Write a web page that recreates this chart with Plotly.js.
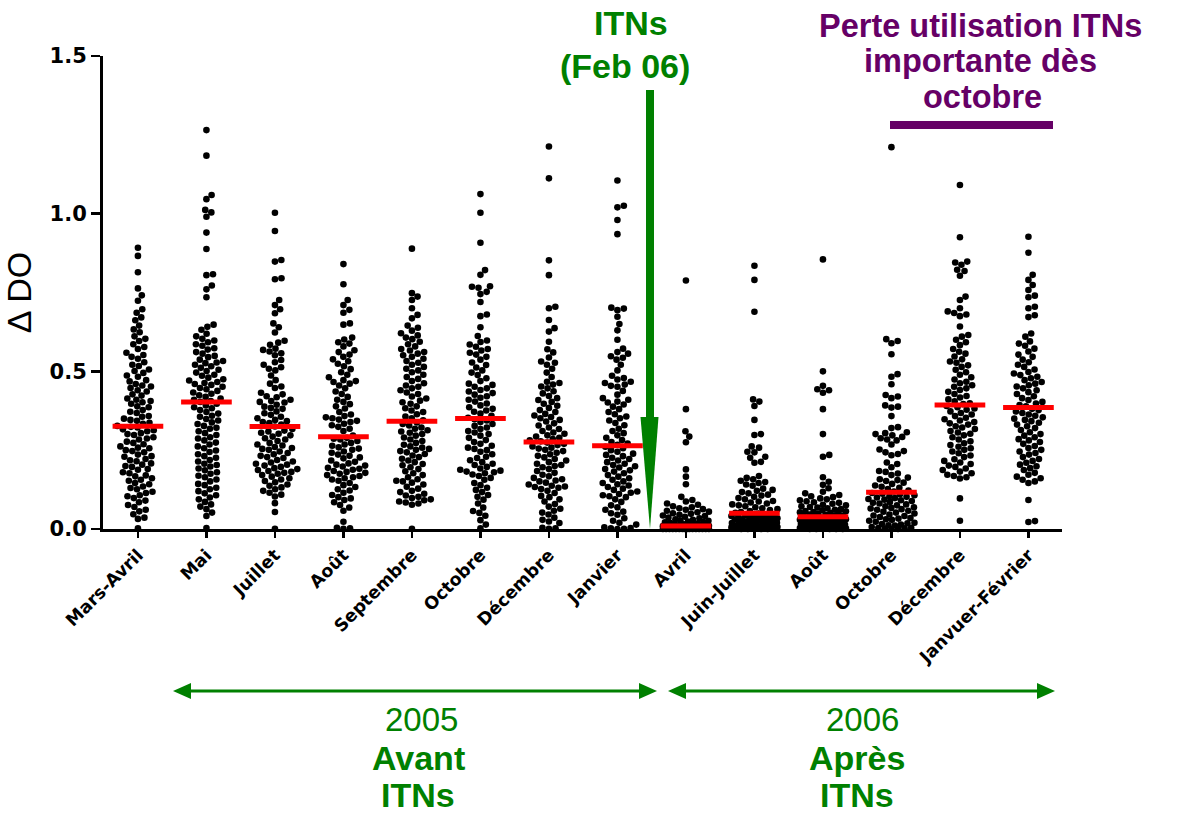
<!DOCTYPE html>
<html>
<head>
<meta charset="utf-8">
<script src="https://cdn.plot.ly/plotly-3.0.1.min.js"></script>
<style>html,body{margin:0;padding:0;background:#fff;}#chart{width:1178px;height:814px;}</style>
</head>
<body>
<div id="chart"></div>
<script>
// ---------- DATA ----------
const categories = ['Mars-Avril','Mai','Juillet','Août','Septembre','Octobre','Décembre','Janvier',
                    'Avril','Juin-Juillet','Août','Octobre','Décembre','Janvuer-Février'];
const yTickVals = [0, 0.5, 1.0, 1.5];

const marsAvril = [0.892,0.866,0.814,0.763,0.741,0.724,0.697,0.686,0.671,0.662,0.645,0.633,0.624,0.611,0.603,
0.596,0.586,0.577,0.571,0.559,0.552,0.546,0.54,0.529,0.521,0.517,0.506,0.501,
0.495,0.487,0.483,0.472,0.468,0.46,0.455,0.452,0.447,0.44,0.436,0.427,0.423,0.414,0.41,0.406,0.402,
0.397,0.389,0.386,0.377,0.372,0.368,0.358,0.356,0.35,0.346,0.343,0.337,0.334,0.327,0.324,0.322,0.316,0.313,0.31,0.304,0.301,
0.298,0.291,0.287,0.284,0.277,0.273,0.269,0.262,0.258,0.256,0.25,0.247,0.243,0.236,0.231,0.229,0.222,0.218,0.215,0.208,0.204,0.2,
0.197,0.19,0.188,0.18,0.177,0.17,0.167,0.161,0.156,0.153,0.146,0.142,0.135,0.13,0.126,0.118,0.114,0.107,0.104,
0.098,0.09,0.085,0.076,0.07,0.061,0.056,0.047,0.036,0.032,0.002];

const mai = [1.265,1.184,1.059,1.046,1.012,1.004,0.99,0.94,0.888,0.808,0.805,0.772,0.76,0.735,
0.648,0.641,0.632,0.619,0.611,0.603,0.598,0.592,0.586,0.581,0.573,0.569,0.561,0.556,0.549,0.545,0.537,0.533,0.528,0.526,
0.521,0.516,0.511,0.505,0.501,0.496,0.489,0.486,0.48,0.475,0.471,0.466,0.463,0.46,
0.457,0.451,0.447,0.443,0.438,0.433,0.429,0.424,0.419,0.414,0.41,0.406,0.403,
0.397,0.392,0.386,0.383,0.377,0.371,0.366,0.359,0.356,0.349,0.344,0.338,
0.333,0.327,0.321,0.318,0.31,0.304,0.298,0.291,0.287,0.281,0.274,
0.268,0.262,0.256,0.249,0.244,0.237,0.231,0.226,0.219,0.214,
0.207,0.203,0.198,0.192,0.186,0.18,0.175,0.169,0.164,0.157,0.151,
0.143,0.139,0.131,0.126,0.12,0.113,0.107,0.1,0.094,0.086,0.078,0.071,0.063,0.052,0.041,0.003];

const juillet = [1.003,0.945,0.853,0.848,0.795,0.792,0.726,0.71,0.697,0.684,0.652,0.64,0.623,
0.597,0.591,0.584,0.572,0.568,0.563,0.557,0.551,0.536,0.529,0.521,0.513,0.508,0.503,
0.487,0.472,0.461,0.452,0.447,0.432,0.427,0.421,0.418,0.41,0.406,0.403,0.401,
0.394,0.388,0.384,0.381,0.373,0.367,0.362,0.356,0.351,0.346,0.342,0.339,0.336,0.331,0.325,
0.317,0.312,0.309,0.305,0.302,0.297,0.293,0.288,0.284,0.279,0.273,0.268,0.265,0.26,0.257,0.254,0.251,
0.246,0.241,0.237,0.232,0.228,0.225,0.219,0.214,0.211,0.207,0.204,0.201,
0.197,0.193,0.19,0.187,0.184,0.181,0.178,0.175,0.171,0.166,0.161,0.157,0.152,
0.148,0.141,0.137,0.132,0.126,0.121,0.115,0.109,0.103,0.082,0.054,0.001];

const aout05 = [0.84,0.776,0.726,0.71,0.695,0.686,0.652,0.648,
0.607,0.601,0.592,0.588,0.579,0.567,0.561,0.553,0.546,0.538,0.532,0.524,0.516,0.507,
0.497,0.489,0.481,0.472,0.469,0.466,0.461,0.455,0.446,0.436,0.428,0.419,0.41,0.403,
0.396,0.389,0.382,0.371,0.363,0.358,0.354,0.351,0.347,0.343,0.339,0.334,0.329,0.324,0.318,0.311,
0.296,0.289,0.286,0.284,0.279,0.273,0.268,0.264,0.259,0.255,0.251,
0.246,0.242,0.236,0.232,0.227,0.224,0.217,0.213,0.208,0.204,0.201,
0.198,0.194,0.191,0.188,0.184,0.181,0.178,0.175,0.171,0.168,0.164,0.161,0.157,0.153,
0.146,0.139,0.133,0.126,0.122,0.115,0.108,0.101,0.097,0.092,0.085,0.076,0.068,0.058,
0.023,0.004,0.002,0.001];

const septembre = [0.889,0.748,0.737,0.726,0.7,0.679,0.668,
0.645,0.638,0.629,0.621,0.614,0.607,0.602,0.594,0.586,0.579,0.571,0.566,0.561,0.556,0.551,
0.546,0.54,0.533,0.527,0.521,0.514,0.508,0.503,0.497,0.489,0.482,0.476,0.469,0.462,0.455,0.451,
0.446,0.44,0.433,0.428,0.42,0.414,0.407,0.402,0.397,0.389,0.383,0.376,0.371,0.364,0.357,0.351,0.345,
0.338,0.333,0.328,0.322,0.318,0.313,0.309,0.305,0.301,0.296,0.29,0.284,0.279,0.273,0.267,0.262,0.258,0.254,0.251,
0.247,0.243,0.238,0.233,0.228,0.223,0.217,0.212,0.206,0.202,0.196,0.19,0.183,0.177,0.171,0.164,0.158,0.153,0.151,
0.147,0.141,0.134,0.128,0.121,0.117,0.112,0.106,0.102,0.098,0.094,0.091,0.087,0.084,0.081,0.077,0.001];

const octobre05 = [1.062,1.003,0.908,0.821,0.806,0.77,0.768,0.765,0.752,0.745,0.72,0.68,0.675,0.64,
0.612,0.598,0.593,0.585,0.578,0.571,0.566,0.559,0.553,0.546,0.537,0.528,0.52,0.512,0.503,
0.496,0.488,0.478,0.469,0.461,0.457,0.451,0.446,0.441,0.436,0.431,0.426,0.421,0.416,0.41,0.404,
0.398,0.392,0.386,0.381,0.376,0.372,0.366,0.359,0.353,0.348,0.344,0.339,0.333,0.327,0.322,0.317,0.311,0.306,0.301,
0.296,0.289,0.282,0.276,0.27,0.264,0.258,0.254,0.25,0.245,0.237,0.229,0.225,0.218,0.212,0.207,0.203,
0.197,0.192,0.188,0.185,0.182,0.18,0.177,0.173,0.168,0.162,0.156,
0.146,0.139,0.131,0.124,0.117,0.108,0.102,0.093,0.081,0.068,0.057,0.051,0.042,0.028,0.014,0.002];

const decembre05 = [1.213,1.112,0.852,0.805,0.705,0.7,0.663,0.637,0.626,0.594,0.57,0.56,
0.544,0.531,0.527,0.521,0.508,0.496,0.482,0.467,0.463,0.458,0.452,
0.446,0.437,0.43,0.422,0.415,0.409,0.403,0.397,0.391,0.384,0.377,0.371,0.365,0.36,0.355,0.351,
0.346,0.341,0.335,0.328,0.322,0.317,0.311,0.306,0.302,0.297,0.293,0.289,0.285,0.281,0.278,
0.274,0.27,0.266,0.262,0.258,0.255,0.251,0.247,0.242,0.237,0.232,0.227,0.222,0.217,0.212,0.207,0.203,0.2,
0.196,0.19,0.184,0.178,0.172,0.167,0.162,0.158,0.154,0.151,
0.147,0.141,0.137,0.135,0.133,0.131,0.127,0.121,0.114,0.105,0.101,
0.094,0.087,0.079,0.071,0.064,0.058,0.052,0.046,0.036,0.029,0.024,0.019,0.004,0.002,0.001];

const janvier = [1.105,1.025,1.02,0.98,0.935,0.702,0.699,0.694,0.673,0.65,0.63,0.6,
0.572,0.561,0.556,0.548,0.543,0.537,0.521,0.503,0.486,0.479,0.474,0.467,0.463,0.458,0.454,0.451,
0.438,0.426,0.415,0.41,0.404,0.401,0.395,0.388,0.38,0.371,0.364,0.357,0.351,
0.344,0.336,0.329,0.318,0.311,0.304,0.297,0.289,0.282,0.276,0.271,0.267,
0.261,0.256,0.25,0.245,0.239,0.235,0.231,0.226,0.222,0.217,0.212,0.207,0.203,0.199,0.195,0.19,0.186,0.182,
0.177,0.171,0.166,0.161,0.156,0.151,0.146,0.142,
0.138,0.133,0.128,0.124,0.119,0.115,0.111,0.107,0.104,0.101,
0.094,0.086,0.075,0.069,0.061,0.055,0.05,0.045,0.034,0.026,0.02,0.014,0.005,0.003,0.002,0.001,0.0];

const avril06 = [0.788,0.38,0.31,0.293,0.275,0.189,0.166,0.142,0.102,0.092,
0.087,0.081,0.077,0.072,0.069,0.066,0.063,0.061,
0.058,0.055,0.053,0.05,0.048,0.045,0.043,0.041,0.039,0.036,0.034,0.031,
0.029,0.027,0.026,0.024,0.022,0.021,0.019,0.018,0.016,0.015,0.013,0.012,0.011,0.01,
0.009,0.009,0.008,0.008,0.007,0.007,0.006,0.006,0.005,0.005,0.005,0.004,0.004,0.004,
0.003,0.003,0.003,0.003,0.002,0.002,0.002,0.002,0.001,0.001,0.001,0.001,0.001,
0,0,0,0,0,0,0,0,0,0,0,0,0,0,0,0,0];

const juinJuillet = [0.835,0.79,0.689,0.411,0.404,0.39,0.346,0.301,0.298,0.262,0.258,0.245,0.243,0.229,0.226,0.213,0.21,
0.168,0.162,0.158,0.153,0.149,0.146,0.141,0.137,
0.128,0.124,0.121,0.117,0.113,0.109,0.106,0.102,0.098,0.094,
0.089,0.087,0.084,0.081,0.078,0.075,0.072,0.069,0.066,0.063,0.06,0.057,0.054,0.051,
0.049,0.047,0.046,0.044,0.043,0.041,0.039,0.038,0.036,0.035,0.034,0.032,0.031,0.03,
0.029,0.028,0.026,0.025,0.024,0.022,0.021,0.02,0.019,0.017,0.016,0.015,0.013,0.012,0.011,0.01,
0.009,0.008,0.008,0.007,0.006,0.005,0.005,0.004,0.003,0.003,0.002,0.002,0.001,0.001,0,0,0,0,0];

const aout06 = [0.855,0.5,0.454,0.443,0.44,0.432,0.38,0.301,0.235,0.229,0.164,0.15,0.14,0.129,
0.118,0.113,0.108,0.104,0.101,0.097,0.094,0.091,
0.088,0.085,0.083,0.08,0.077,0.075,0.072,0.07,0.068,0.066,0.063,0.061,
0.059,0.057,0.056,0.054,0.053,0.051,0.049,0.048,0.046,0.045,0.043,0.042,0.041,
0.037,0.036,0.034,0.033,0.032,0.031,0.029,0.028,0.027,0.026,0.025,0.024,0.023,0.022,0.021,0.02,
0.019,0.018,0.017,0.016,0.015,0.014,0.013,0.012,0.011,0.01,0.009,0.008,0.007,0.006,0.005,
0.004,0.004,0.003,0.003,0.002,0.002,0.002,0.001,0.001,0.001,0,0,0,0,0,0];

const octobre06 = [1.211,0.602,0.596,0.589,0.554,0.491,0.483,0.459,0.425,0.42,0.415,0.392,0.388,0.385,0.358,0.323,0.32,
0.307,0.304,0.301,0.297,0.292,0.288,0.284,0.281,
0.268,0.252,0.247,0.243,0.238,0.234,0.211,0.206,0.196,0.184,0.181,
0.176,0.171,0.163,0.158,0.155,0.152,0.147,0.143,0.138,0.134,0.131,0.127,0.122,0.119,
0.114,0.112,0.11,0.107,0.104,0.102,0.1,0.098,0.095,0.093,0.091,
0.089,0.086,0.083,0.081,0.078,0.075,0.072,0.069,0.067,0.065,0.063,0.061,
0.058,0.055,0.052,0.049,0.046,0.043,0.041,0.038,0.035,0.033,0.031,
0.029,0.026,0.023,0.02,0.018,0.016,0.014,0.012,0.011,0.006,0.004,0.003,0.002,0.001,0,0];

const decembre06 = [1.091,0.925,0.848,0.845,0.838,0.822,0.818,0.803,0.737,0.726,0.7,0.69,0.685,0.68,0.675,0.642,0.615,0.61,0.6,
0.592,0.583,0.571,0.562,0.556,0.547,0.538,0.531,0.527,0.519,0.514,0.505,
0.497,0.489,0.481,0.474,0.467,0.462,0.456,0.451,
0.446,0.441,0.435,0.428,0.422,0.417,0.411,0.405,0.399,0.396,
0.39,0.386,0.382,0.378,0.373,0.368,0.363,0.358,0.353,
0.348,0.344,0.339,0.335,0.331,0.326,0.322,0.317,0.311,0.306,0.302,
0.297,0.291,0.284,0.278,0.272,0.266,0.261,0.256,0.251,
0.246,0.24,0.233,0.228,0.221,0.216,0.211,0.206,0.201,
0.197,0.192,0.187,0.182,0.177,0.172,0.168,0.164,0.16,0.097,0.026];

const janvFev = [0.927,0.876,0.806,0.79,0.774,0.758,0.74,0.735,0.705,0.7,0.678,0.672,0.62,0.61,
0.595,0.588,0.581,0.572,0.563,0.553,0.546,0.537,0.529,0.521,0.514,0.506,
0.498,0.493,0.488,0.483,0.478,0.472,0.466,0.461,0.456,0.452,
0.446,0.44,0.434,0.428,0.421,0.415,0.409,0.403,0.398,0.393,0.389,
0.381,0.377,0.373,0.368,0.363,0.359,0.354,0.35,0.346,0.342,
0.337,0.331,0.326,0.32,0.314,0.307,0.301,0.296,0.291,0.285,0.281,
0.276,0.27,0.263,0.257,0.251,0.246,0.241,0.236,
0.228,0.222,0.216,0.21,0.204,0.199,0.193,0.187,
0.178,0.172,0.166,0.161,0.156,0.151,0.146,0.092,0.025,0.022];

const seriesValues = [marsAvril, mai, juillet, aout05, septembre, octobre05, decembre05, janvier,
                      avril06, juinJuillet, aout06, octobre06, decembre06, janvFev];

// ---------- GEOMETRY ----------
const FIG_W = 1178, FIG_H = 814;
const M = {l: 103, r: 116, t: 56, b: 285};
const PW = FIG_W - M.l - M.r, PH = FIG_H - M.t - M.b;
const XR = [-0.51, 13.49], YR = [0, 1.5];
const pxPerX = PW / (XR[1] - XR[0]);
const pxPerY = PH / (YR[1] - YR[0]);
const DOT = 6.6, CAP = 23;

function median(a) {
  const s = a.slice().sort((p, q) => p - q);
  const n = s.length;
  return n % 2 ? s[(n - 1) / 2] : (s[n / 2 - 1] + s[n / 2]) / 2;
}

// beeswarm: horizontal offsets in pixels, computed from the values
function swarm(vals) {
  const order = vals.map((v, i) => i).sort((a, b) => vals[a] - vals[b]);
  const placed = [];
  const off = new Array(vals.length);
  const D2 = DOT * DOT;
  for (const i of order) {
    const y = vals[i] * pxPerY;
    const near = placed.filter(p => Math.abs(p.y - y) < DOT);
    const cands = [0];
    for (const p of near) {
      const dx = Math.sqrt(D2 - (p.y - y) * (p.y - y));
      cands.push(p.x + dx, p.x - dx);
    }
    cands.sort((a, b) => Math.abs(a) - Math.abs(b));
    let best = null;
    for (const c of cands) {
      if (Math.abs(c) > CAP + 1e-6) continue;
      if (near.every(p => (p.x - c) * (p.x - c) + (p.y - y) * (p.y - y) >= D2 - 1e-3)) { best = c; break; }
    }
    if (best === null) {
      let bestScore = -Infinity;
      for (let c = -CAP; c <= CAP + 1e-9; c += 0.5) {
        let m = Infinity;
        for (const p of near) { const d = (p.x - c) * (p.x - c) + (p.y - y) * (p.y - y); if (d < m) m = d; }
        const score = m - 1e-3 * Math.abs(c);
        if (score > bestScore) { bestScore = score; best = c; }
      }
    }
    placed.push({x: best, y: y});
    off[i] = best;
  }
  return off;
}

const dotX = [], dotY = [];
const medX = [], medY = [];
seriesValues.forEach((vals, ci) => {
  const off = swarm(vals);
  vals.forEach((v, k) => { dotX.push(ci + off[k] / pxPerX); dotY.push(v); });
  const m = median(vals);
  medX.push(ci - 0.37, ci + 0.37, null);
  medY.push(m, m, null);
});

const GREEN = 'rgb(0,128,0)', PURPLE = 'rgb(102,0,102)';
const px = v => (v - M.l) / PW;          // pixel x -> paper
const py = v => (M.t + PH - v) / PH;     // pixel y -> paper

const traces = [
  {type: 'scatter', mode: 'markers', x: dotX, y: dotY, cliponaxis: false,
   marker: {size: DOT, color: '#000', line: {width: 0}}, hoverinfo: 'y'},
  {type: 'scatter', mode: 'lines', x: medX, y: medY, cliponaxis: false,
   line: {color: '#ff0000', width: 5}, hoverinfo: 'skip'}
];

const shapes = [
  // green vertical arrow (ITNs)
  {type: 'rect', xref: 'paper', yref: 'paper', x0: px(646), x1: px(654), y0: py(90), y1: py(419),
   fillcolor: GREEN, line: {width: 0}},
  {type: 'path', xref: 'paper', yref: 'paper',
   path: `M ${px(640.5)},${py(417)} L ${px(658.5)},${py(417)} L ${px(650)},${py(529)} Z`,
   fillcolor: GREEN, line: {width: 0}},
  // purple bar
  {type: 'rect', xref: 'paper', yref: 'paper', x0: px(890), x1: px(1053), y0: py(121), y1: py(129),
   fillcolor: PURPLE, line: {width: 0}},
];
// bottom double-headed arrows
[[173, 657], [668, 1055]].forEach(([a, b]) => {
  const yy = 691;
  shapes.push({type: 'line', xref: 'paper', yref: 'paper', x0: px(a + 14), x1: px(b - 14), y0: py(yy), y1: py(yy),
               line: {color: GREEN, width: 3}});
  shapes.push({type: 'path', xref: 'paper', yref: 'paper',
               path: `M ${px(a)},${py(yy)} L ${px(a + 18)},${py(yy - 8)} L ${px(a + 18)},${py(yy + 8)} Z`,
               fillcolor: GREEN, line: {width: 0}});
  shapes.push({type: 'path', xref: 'paper', yref: 'paper',
               path: `M ${px(b)},${py(yy)} L ${px(b - 18)},${py(yy - 8)} L ${px(b - 18)},${py(yy + 8)} Z`,
               fillcolor: GREEN, line: {width: 0}});
});

function note(text, x, y, size, color, bold) {
  return {text: text, xref: 'paper', yref: 'paper', x: px(x), y: py(y), xanchor: 'center', yanchor: 'middle',
          showarrow: false, font: {family: 'Liberation Sans, Arial, sans-serif', size: size, color: color,
          weight: bold ? 700 : 400}};
}
const annotations = [
  note('ITNs', 631, 23, 34, GREEN, true),
  note('(Feb 06)', 625, 66, 34, GREEN, true),
  note('Perte utilisation ITNs', 980, 26, 32.5, PURPLE, true),
  note('importante dès', 980, 61, 32.5, PURPLE, true),
  note('octobre', 982, 97, 32.5, PURPLE, true),
  note('2005', 421, 719, 33, GREEN, false),
  note('Avant', 418, 758, 34, GREEN, true),
  note('ITNs', 418, 795, 34, GREEN, true),
  note('2006', 862, 719, 33, GREEN, false),
  note('Après', 857, 758, 34, GREEN, true),
  note('ITNs', 857, 795, 34, GREEN, true),
];

const layout = {
  width: FIG_W, height: FIG_H,
  margin: {l: M.l, r: M.r, t: M.t, b: M.b, pad: 0},
  paper_bgcolor: '#fff', plot_bgcolor: '#fff',
  showlegend: false,
  xaxis: {
    range: XR, tickvals: categories.map((c, i) => i), ticktext: categories,
    tickangle: -45, tickfont: {family: 'DejaVu Sans, sans-serif', size: 17.5, color: '#000', weight: 700},
    ticks: 'outside', ticklen: 6, tickwidth: 2.5, tickcolor: '#000',
    showline: true, linewidth: 3, linecolor: '#000',
    showgrid: false, zeroline: false, automargin: false, fixedrange: true
  },
  yaxis: {
    range: YR, tickvals: yTickVals, tickformat: '.1f',
    tickfont: {family: 'DejaVu Sans, sans-serif', size: 21, color: '#000', weight: 700},
    ticks: 'outside', ticklen: 9, tickwidth: 2.5, tickcolor: '#000',
    showline: true, linewidth: 3, linecolor: '#000',
    showgrid: false, zeroline: false, automargin: false, fixedrange: true,
    title: {text: '\u00a0\u00a0Δ DO', font: {family: 'Liberation Sans, Arial, sans-serif', size: 34, color: '#000'}, standoff: 14}
  },
  shapes: shapes,
  annotations: annotations
};

Plotly.newPlot('chart', traces, layout, {displayModeBar: false, staticPlot: true});
</script>
</body>
</html>
